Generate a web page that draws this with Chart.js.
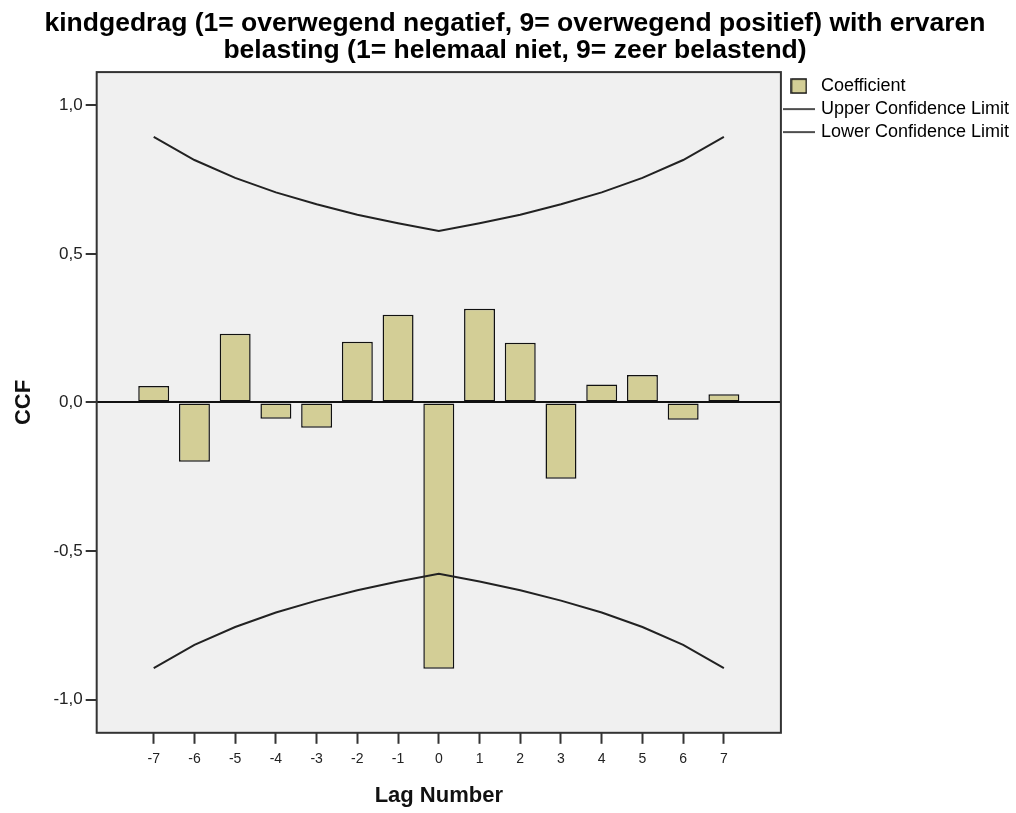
<!DOCTYPE html>
<html>
<head>
<meta charset="utf-8">
<script src="https://cdn.jsdelivr.net/npm/chart.js@4.4.0/dist/chart.umd.min.js"></script>
<style>
  html, body { margin: 0; padding: 0; background: #fff; }
  #wrap { width: 1016px; height: 813px; }
</style>
</head>
<body>
<div id="wrap"><canvas id="ccfChart"></canvas></div>
<script>
// ===== DATA =====
const lags = [-7, -6, -5, -4, -3, -2, -1, 0, 1, 2, 3, 4, 5, 6, 7];
const coefficients = [0.055, -0.200, 0.231, -0.055, -0.085, 0.204, 0.295, -0.896, 0.315, 0.201, -0.257, 0.060, 0.092, -0.058, 0.028];
const upperLimits = [0.894, 0.816, 0.756, 0.707, 0.667, 0.632, 0.603, 0.577, 0.603, 0.632, 0.667, 0.707, 0.756, 0.816, 0.894];
const lowerLimits = [-0.894, -0.816, -0.756, -0.707, -0.667, -0.632, -0.603, -0.577, -0.603, -0.632, -0.667, -0.707, -0.756, -0.816, -0.894];
const yTicks = [-1.0, -0.5, 0.0, 0.5, 1.0];
const titleLines = [
  'kindgedrag (1= overwegend negatief, 9= overwegend positief) with ervaren',
  'belasting (1= helemaal niet, 9= zeer belastend)'
];

const FONT = "'Liberation Sans', Arial, sans-serif";
const BAR_FILL = '#d3ce96';

// small legend icons
function makeIcon(w, h, draw) {
  const c = document.createElement('canvas');
  c.width = w; c.height = h;
  draw(c.getContext('2d'));
  return c;
}
const boxIcon = makeIcon(17, 16, g => {
  g.fillStyle = BAR_FILL; g.fillRect(1, 1, 15, 14);
  g.strokeStyle = '#111'; g.lineWidth = 1.5; g.strokeRect(1, 1, 15, 14);
});
const lineIcon = makeIcon(32, 16, g => {
  g.strokeStyle = '#222'; g.lineWidth = 1.6;
  g.beginPath(); g.moveTo(0, 8); g.lineTo(32, 8); g.stroke();
});

// plot background and frame
const plotFrame = {
  id: 'plotFrame',
  beforeDraw(chart) {
    const { ctx, chartArea: a } = chart;
    ctx.save();
    ctx.fillStyle = '#f0f0f0';
    ctx.fillRect(a.left, a.top, a.right - a.left, a.bottom - a.top);
    ctx.restore();
  },
  afterDatasetsDraw(chart) {
    const { ctx, chartArea: a } = chart;
    ctx.save();
    ctx.strokeStyle = '#333';
    ctx.lineWidth = 2;
    ctx.strokeRect(a.left, a.top, a.right - a.left, a.bottom - a.top);
    ctx.restore();
  }
};

const toPoints = arr => lags.map((l, i) => ({ x: l, y: arr[i] }));

new Chart(document.getElementById('ccfChart'), {
  type: 'bar',
  data: {
    datasets: [
      {
        label: 'Coefficient',
        data: toPoints(coefficients),
        backgroundColor: BAR_FILL,
        borderColor: '#111',
        borderWidth: 1.5,
        borderSkipped: false,
        categoryPercentage: 1,
        barPercentage: 0.76,
        order: 2
      },
      {
        type: 'line',
        label: 'Upper Confidence Limit',
        data: toPoints(upperLimits),
        borderColor: '#222',
        borderWidth: 2,
        pointRadius: 0,
        tension: 0,
        fill: false,
        order: 1
      },
      {
        type: 'line',
        label: 'Lower Confidence Limit',
        data: toPoints(lowerLimits),
        borderColor: '#222',
        borderWidth: 2,
        pointRadius: 0,
        tension: 0,
        fill: false,
        order: 1
      }
    ]
  },
  options: {
    responsive: true,
    maintainAspectRatio: false,
    animation: false,
    layout: { padding: { left: 11, right: -3, top: 0, bottom: 2 } },
    plugins: {
      title: {
        display: true,
        text: titleLines,
        color: '#000',
        font: { family: FONT, size: 26.5, weight: 'bold', lineHeight: 1.03 },
        padding: { top: 10, bottom: 7.5 }
      },
      legend: {
        position: 'right',
        align: 'start',
        fullSize: false,
        labels: {
          color: '#222',
          font: { family: FONT, size: 18 },
          usePointStyle: true,
          pointStyleWidth: 26,
          boxHeight: 16,
          padding: 5,
          generateLabels: chart => chart.data.datasets.map((ds, i) => ({
            text: ds.label,
            pointStyle: i === 0 ? boxIcon : lineIcon,
            datasetIndex: i,
            hidden: false,
            lineWidth: 0
          }))
        }
      },
      tooltip: { enabled: false }
    },
    scales: {
      x: {
        type: 'linear',
        min: -8.4,
        max: 8.4,
        offset: false,
        afterBuildTicks: axis => { axis.ticks = lags.map(v => ({ value: v })); },
        ticks: {
          color: '#222',
          font: { family: FONT, size: 14 },
          padding: 7,
          autoSkip: false,
          maxRotation: 0,
          callback: v => String(v)
        },
        grid: {
          display: true,
          offset: false,
          drawOnChartArea: false,
          drawTicks: true,
          tickLength: 11,
          tickColor: '#333',
          tickWidth: 2
        },
        border: { display: false },
        title: {
          display: true,
          text: 'Lag Number',
          color: '#111',
          font: { family: FONT, size: 22, weight: 'bold' },
          padding: { top: 8, bottom: 2 }
        }
      },
      y: {
        min: -1.112,
        max: 1.112,
        afterBuildTicks: axis => { axis.ticks = yTicks.map(v => ({ value: v })); },
        ticks: {
          color: '#222',
          font: { family: FONT, size: 17 },
          padding: 3,
          callback: v => v.toFixed(1).replace('.', ',')
        },
        grid: {
          display: true,
          drawOnChartArea: true,
          drawTicks: true,
          tickLength: 11,
          tickColor: '#333',
          tickWidth: 2,
          lineWidth: 2,
          color: c => (c.tick && c.tick.value === 0) ? '#111' : 'transparent'
        },
        border: { display: false },
        title: {
          display: true,
          text: 'CCF',
          color: '#111',
          font: { family: FONT, size: 22, weight: 'bold' },
          padding: { top: 0, bottom: 13 }
        }
      }
    }
  },
  plugins: [plotFrame]
});
</script>
</body>
</html>
